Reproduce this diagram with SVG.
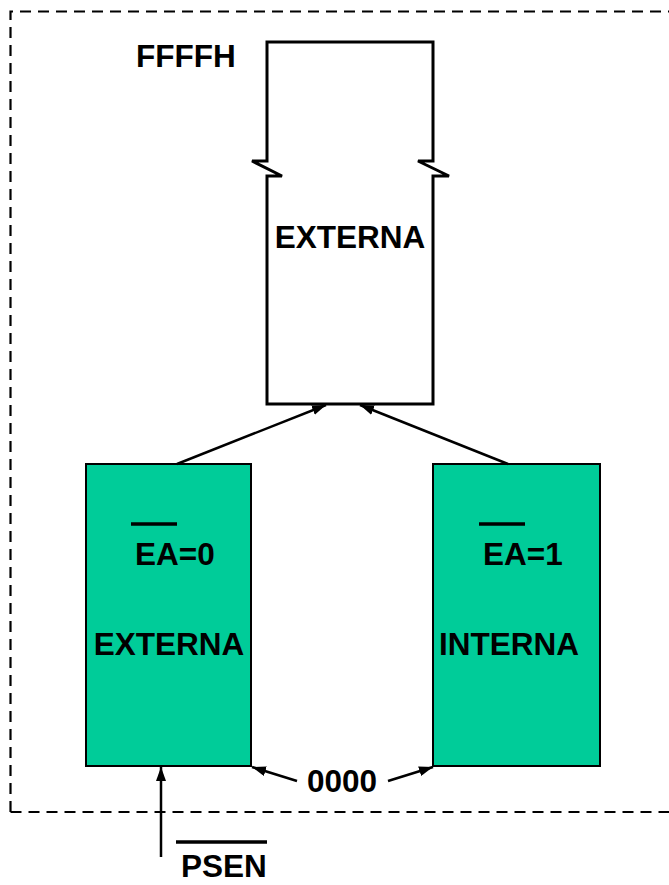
<svg xmlns="http://www.w3.org/2000/svg" width="669" height="885" viewBox="0 0 669 885">
<defs>
<style>
.t{font-family:"Liberation Sans",Arial,sans-serif;font-weight:bold;font-size:31.5px;fill:#000}
.g{fill:#00CC99;stroke:#000;stroke-width:2}
.c{stroke:#000;stroke-width:2.5;fill:none}
.ov{stroke:#000;stroke-width:3.5}
</style>
<marker id="ah" viewBox="0 0 14 10" refX="14" refY="5" markerWidth="14" markerHeight="10" markerUnits="userSpaceOnUse" orient="auto">
<path d="M0,0 L14,5 L0,10 Z" fill="#000"/>
</marker>
</defs>
<rect width="669" height="885" fill="#fff"/>
<path d="M10.5,812 L10.5,11.5 L680,11.5 M10.5,812 L680,812" fill="none" stroke="#000" stroke-width="2.2" stroke-dasharray="11,7"/>
<g id="mem-top">
<path d="M267,161 L267,42 L433,42 L433,161 L418,161 L449,176 L433,176 L433,404 L267,404 L267,176 L282,176 L252,161 L267,161 Z" fill="#fff" stroke="#000" stroke-width="3" stroke-linejoin="miter"/>
<text class="t" x="350" y="248" text-anchor="middle">EXTERNA</text>
</g>
<text class="t" x="136" y="67">FFFFH</text>
<g id="ea0">
<rect class="g" x="86" y="464" width="165" height="302"/>
<line class="ov" x1="131" y1="524" x2="177" y2="524"/>
<text class="t" x="135" y="565">EA=0</text>
<text class="t" x="169" y="655" text-anchor="middle">EXTERNA</text>
</g>
<g id="ea1">
<rect class="g" x="433" y="464" width="167" height="302"/>
<line class="ov" x1="479" y1="524" x2="525" y2="524"/>
<text class="t" x="483" y="565">EA=1</text>
<text class="t" x="509" y="655" text-anchor="middle">INTERNA</text>
</g>
<g id="zero">
<text class="t" x="342" y="792" text-anchor="middle">0000</text>
</g>
<g id="psen">
<line class="ov" x1="176" y1="842" x2="267" y2="842"/>
<text class="t" x="181" y="877">PSEN</text>
</g>
<g id="connectors">
<line class="c" x1="177" y1="464" x2="326" y2="405" marker-end="url(#ah)"/>
<line class="c" x1="508" y1="464" x2="360" y2="405" marker-end="url(#ah)"/>
<line class="c" x1="297" y1="781" x2="252" y2="767" marker-end="url(#ah)"/>
<line class="c" x1="388" y1="781" x2="433" y2="767" marker-end="url(#ah)"/>
<line class="c" x1="161" y1="857" x2="161" y2="767" marker-end="url(#ah)"/>
</g>
</svg>
